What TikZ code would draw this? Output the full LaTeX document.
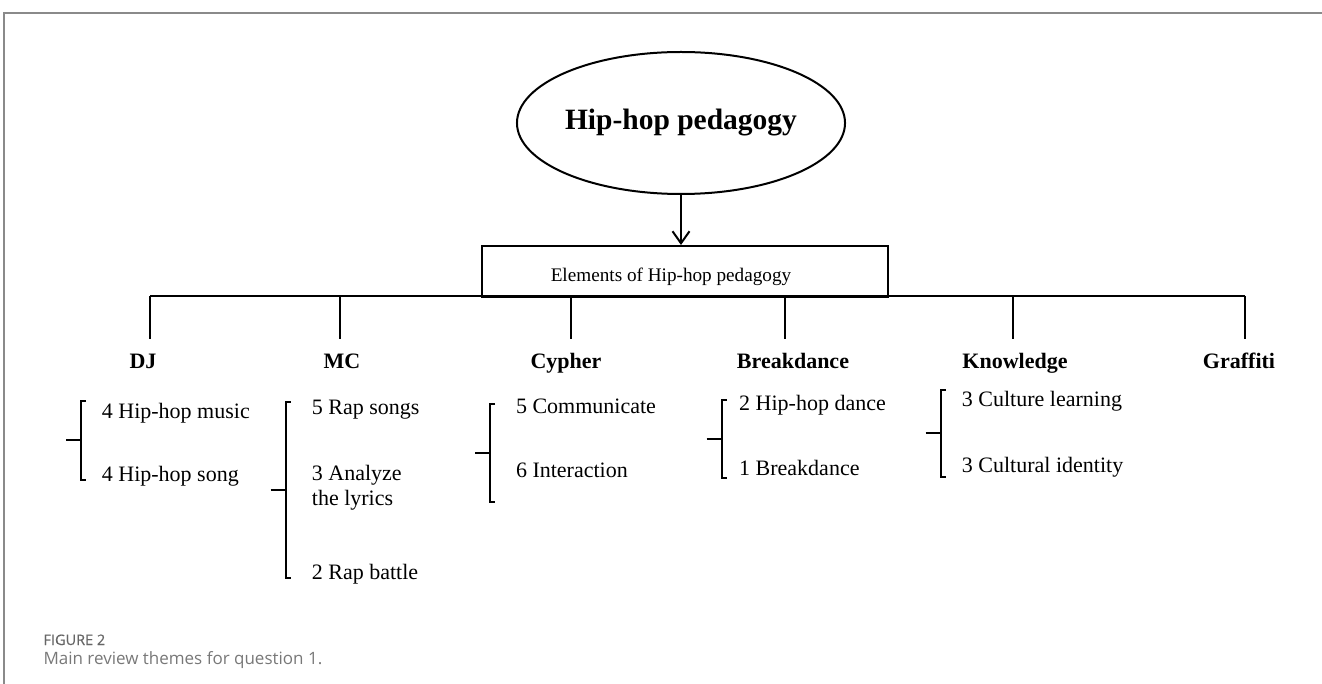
\documentclass[tikz,border=0pt]{standalone}
\usepackage{fontspec}
\setmainfont{Liberation Serif}
\newfontfamily\capfont{Open Sans}
\newfontfamily\capfontb[FakeBold=0.5]{Open Sans}
\usetikzlibrary{shapes.geometric,arrows.meta}
\definecolor{framegray}{HTML}{8A8A8A}
\definecolor{capdark}{HTML}{666666}
\definecolor{caplight}{HTML}{787878}
\tikzset{
  ln/.style={line width=2pt, black},
  lbl/.style={font=\fontsize{22}{26}\selectfont\bfseries, anchor=base, inner sep=0pt},
  item/.style={font=\fontsize{22}{26}\selectfont, anchor=base west, inner sep=0pt},
  brk/.style={line width=2pt, black},
}
\newcommand{\mybrk}[4]{%
  \draw[brk] (#1+5,#2) -- (#1,#2) -- (#1,#3) -- (#1+5,#3);
  \draw[brk] (#1-15,#4) -- (#1,#4);
}
\begin{document}
\begin{tikzpicture}[x=1pt,y=-1pt]
\useasboundingbox (0,0) rectangle (1322,684);
% frame
\draw[framegray, line width=1.5pt] (4,684) -- (4,13) -- (1322,13);
% top ellipse
\node[ellipse, draw, line width=2pt, minimum width=304pt, minimum height=142pt, inner sep=0pt,
      font=\fontsize{29.5}{34}\selectfont\bfseries] (top) at (681,123) {\raisebox{2pt}{Hip-hop pedagogy}};
% elements box
\node[draw, line width=2pt, minimum width=406pt, minimum height=51pt, inner sep=0pt, anchor=north west] (elem) at (481,245) {};
\node[font=\fontsize{19.2}{23}\selectfont, anchor=base, inner sep=0pt] (elemtxt) at (671,281.7) {Elements of Hip-hop pedagogy};
\draw[ln, -{Straight Barb[length=12pt,width=17pt,line width=2pt]}] (top.south) -- (elem.north -| top.south);
% main horizontal line
\coordinate (hl) at (150,296);
\coordinate (hr) at (1245,296);
\draw[ln] (hl) -- (hr);
% labels
\node[lbl] (dj) at (143,369) {DJ};
\node[lbl] (mc) at (342,369) {MC};
\node[lbl] (cy) at (566,369) {Cypher};
\node[lbl] (bd) at (793,369) {Breakdance};
\node[lbl] (kn) at (1015,369) {Knowledge};
\node[lbl] (gr) at (1239,369) {Graffiti};
% stubs
\foreach \n/\x in {s1/150,s2/340,s3/571,s4/785,s5/1013,s6/1245}{
  \coordinate (\n a) at (\x,296);
  \coordinate (\n b) at (\x,339);
  \draw[ln] (\n a) -- (\n b);
}
% brackets: x, top, bottom, tick
\mybrk{81}{401}{480}{440}
\mybrk{285.5}{401.5}{578}{489.5}
\mybrk{490}{404}{502}{453}
\mybrk{721.7}{400}{478}{439}
\mybrk{940.7}{390}{477}{433}
% items
\node[item] (dj1) at (101.7,418) {4 Hip-hop music};
\node[item] (dj2) at (101.7,481.7) {4 Hip-hop song};
\node[item] (mc1) at (311.7,414) {5 Rap songs};
\node[item] (mc2) at (311.7,480.7) {3 Analyze};
\node[item] (mc3) at (311.7,505) {the lyrics};
\node[item] (mc4) at (311.7,579) {2 Rap battle};
\node[item] (cy1) at (515.8,413) {5 Communicate};
\node[item] (cy2) at (515.8,477) {6 Interaction};
\node[item] (bd1) at (739,410) {2 Hip-hop dance};
\node[item] (bd2) at (739,475) {1 Breakdance};
\node[item] (kn1) at (961.7,406) {3 Culture learning};
\node[item] (kn2) at (961.7,472) {3 Cultural identity};
% caption
\node[anchor=base west, inner sep=0pt, text=capdark, font=\capfontb\fontsize{14.5}{17}\selectfont] (cap1) at (43.3,645) {FIGURE 2};
\node[anchor=base west, inner sep=0pt, text=caplight, font=\capfont\fontsize{17}{20}\selectfont] (cap2) at (43.3,664.3) {Main review themes for question 1.};
\end{tikzpicture}
\end{document}
